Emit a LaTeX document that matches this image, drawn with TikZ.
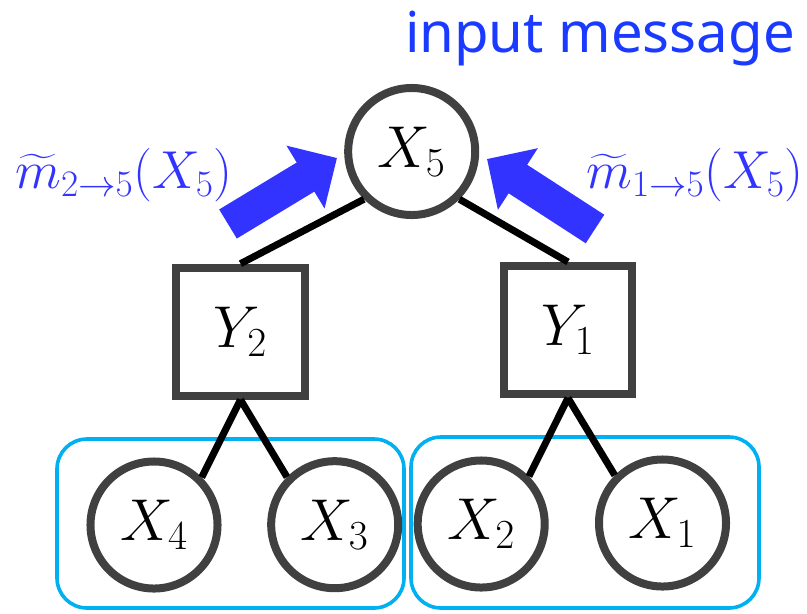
\RequirePackage{fix-cm}
\documentclass[tikz,border=0pt]{standalone}
\usepackage{amsmath}
\usepackage{fontspec}
\usepackage{tikz}
\usetikzlibrary{arrows.meta,positioning,calc}
\newfontfamily\titlesans{Noto Sans}
\definecolor{nodegray}{HTML}{404040}
\definecolor{msgblue}{HTML}{3333FF}
\definecolor{titleblue}{HTML}{1A3AFF}
\definecolor{groupcyan}{HTML}{00B0F0}

\begin{document}
\begin{tikzpicture}[x=0.025cm,y=-0.025cm,
      var/.style={circle,draw=nodegray,line width=0.2cm,fill=white,minimum size=3.175cm,inner sep=0pt,font=\fontsize{42}{48}\selectfont},
      fac/.style={rectangle,draw=nodegray,line width=0.2cm,fill=white,minimum size=3.2cm,inner sep=0pt,font=\fontsize{42}{48}\selectfont},
      edge/.style={line width=0.175cm,black},
      grp/.style={draw=groupcyan,line width=0.09cm,rounded corners=0.75cm},
      msg/.style={-{Triangle[length=0.92cm,width=1.78cm]},line width=0.85cm,msgblue},
      msglabel/.style={text=msgblue,font=\fontsize{38}{44}\selectfont,inner sep=0pt}
    ]
    \useasboundingbox (0,0) rectangle (807,613);
    % groups of leaves
    \draw[grp] (57,439) rectangle (404,608);
    \draw[grp] (411,437) rectangle (759,608);
    % variables and factors
    \node[var] (X5) at (411.7,151.5) {$X_5$};
    \node[fac] (Y2) at (240.5,331.7) {$Y_2$};
    \node[fac] (Y1) at (568,330) {$Y_1$};
    \node[var] (X4) at (154,525) {$X_4$};
    \node[var] (X3) at (334.7,524.7) {$X_3$};
    \node[var] (X2) at (481.2,524) {$X_2$};
    \node[var] (X1) at (662.5,523) {$X_1$};
    \draw[edge] (X5.225) -- (Y2.north);
    \draw[edge] (X5.315) -- (Y1.north);
    \draw[edge] (Y2.south) -- (X4.45);
    \draw[edge] (Y2.south) -- (X3.135);
    \draw[edge] (Y1.south) -- (X2.45);
    \draw[edge] (Y1.south) -- (X1.135);
    % incoming messages
    \coordinate (m2from) at (228,224);
    \coordinate (m2to) at (337,158);
    \coordinate (m1from) at (595,229);
    \coordinate (m1to) at (487,159);
    \draw[msg] (m2from) -- (m2to);
    \draw[msg] (m1from) -- (m1to);
    \node[msglabel,anchor=base west] (m2lab) at (15,188) {$\widetilde{m}_{2\to5}(X_5)$};
    \node[msglabel,anchor=base east] (m1lab) at (804,188) {$\widetilde{m}_{1\to5}(X_5)$};
    \node[anchor=base east,inner sep=0pt,text=titleblue,font=\titlesans\fontsize{40}{46}\selectfont] (title) at (795,52) {input message};
  \end{tikzpicture}
\end{document}
